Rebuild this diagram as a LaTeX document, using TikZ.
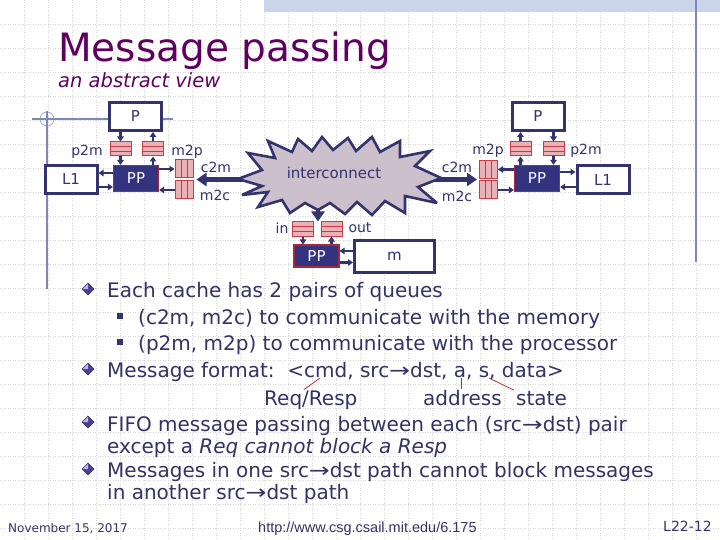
\documentclass[tikz,border=0pt]{standalone}
\usepackage{fontspec}
\usepackage{graphicx}
\setmainfont{DejaVu Sans}
\newfontfamily\urlfont{Liberation Sans}
\usetikzlibrary{arrows.meta,calc}
\definecolor{navy}{RGB}{51,51,110}
\definecolor{ppfill}{RGB}{51,51,128}
\definecolor{ppborder}{RGB}{170,40,60}
\definecolor{qfill}{RGB}{234,178,182}
\definecolor{qborder}{RGB}{200,60,70}
\definecolor{starfill}{RGB}{204,192,204}
\definecolor{textc}{RGB}{51,51,102}
\definecolor{titlec}{RGB}{96,0,96}
\definecolor{gridc}{RGB}{215,215,215}
\definecolor{bandc}{RGB}{202,213,234}
\definecolor{decoc}{RGB}{125,135,185}
\definecolor{redl}{RGB}{190,50,50}
\definecolor{bulletdark}{RGB}{80,60,150}
\definecolor{bulletlight}{RGB}{190,180,225}
\newcommand{\sdarrow}{\scalebox{1.25}[1]{→}}
\tikzset{
  gridline/.style={gridc, line width=0.6pt, dash pattern=on 1pt off 1.5pt},
  pbox/.style={rectangle, draw=navy, line width=3pt, fill=white, minimum width=52pt, minimum height=28pt, inner sep=0pt, text=navy, font=\fontsize{15}{17}\selectfont},
  ppbox/.style={rectangle, draw=ppborder, line width=1.2pt, fill=ppfill, minimum width=45pt, minimum height=26pt, inner sep=0pt, text=white, font=\fontsize{15}{17}\selectfont},
  hq/.style={rectangle, draw=qborder, fill=qfill, line width=1pt, minimum width=21pt, minimum height=14pt, inner sep=0pt,
    path picture={\draw[qborder,line width=0.8pt]
      ([yshift=4.67pt]path picture bounding box.south west) -- ([yshift=4.67pt]path picture bounding box.south east)
      ([yshift=-4.67pt]path picture bounding box.north west) -- ([yshift=-4.67pt]path picture bounding box.north east);}},
  vq/.style={rectangle, draw=qborder, fill=qfill, line width=1pt, minimum width=18pt, minimum height=18pt, inner sep=0pt,
    path picture={\draw[qborder,line width=0.8pt]
      ([xshift=6pt]path picture bounding box.south west) -- ([xshift=6pt]path picture bounding box.north west)
      ([xshift=-6pt]path picture bounding box.south east) -- ([xshift=-6pt]path picture bounding box.north east);}},
  arr/.style={navy, line width=2.2pt, -{Triangle[length=5pt,width=6.5pt]}},
  bigarr/.style={navy, line width=4.5pt, -{Triangle[length=10pt,width=13pt]}},
  lbl/.style={text=navy, font=\fontsize{14}{16}\selectfont, inner sep=0pt},
  body/.style={text=textc, font=\fontsize{20}{24}\selectfont, inner sep=0pt, anchor=base west},
  body2/.style={text=textc, font=\fontsize{20}{22}\selectfont, inner sep=0pt, anchor=west, align=left},
  foot/.style={text=textc, inner sep=0pt, anchor=base west},
  redline/.style={redl, line width=0.8pt},
  dbul/.pic={
    \fill[bulletdark] (0,-6) -- (6,0) -- (0,6) -- (-6,0) -- cycle;
    \fill[bulletlight] (-6,0) -- (0,-6) -- (0,0) -- cycle;
    \draw[navy, line width=0.4pt] (0,-6) -- (6,0) -- (0,6) -- (-6,0) -- cycle;
  },
  sbul/.pic={\fill[navy] (-3,-3) rectangle (3,3);}
}
\begin{document}
\begin{tikzpicture}[x=1pt,y=-1pt]
\useasboundingbox (0,0) rectangle (720,540);
\fill[white] (0,0) rectangle (720,540);
% background grid
\foreach \x in {24,48,...,696} \draw[gridline] (\x,0) -- (\x,540);
\foreach \y in {24,48,...,528} \draw[gridline] (0,\y) -- (720,\y);
\fill[bandc] (264,0) rectangle (720,12);
\draw[decoc, line width=1.3pt] (696,0) -- (696,262);
% left decoration
\draw[decoc!70, line width=0.8pt] (47,119) circle (7);
\draw[decoc, line width=1.2pt] (32,119) -- (173,119);
\draw[decoc, line width=1.2pt] (47,111) -- (47,289);

% title
\node[text=titlec, font=\fontsize{39}{44}\selectfont, inner sep=0pt, anchor=base west] (title) at (58,62) {Message passing};
\node[text=titlec, font=\fontsize{19.5}{22}\selectfont\itshape, inner sep=0pt, anchor=base west] (subtitle) at (58,88) {an abstract view};

% attachment points of the interconnect
\coordinate (starL) at (252,179.5);
\coordinate (starR) at (425,179.5);
\coordinate (starB) at (318,195);

% left cluster
\node[pbox] (P1) at (135.5,116.5) {P};
\node[hq] (p2mL) at (120.5,149) {};
\node[hq] (m2pL) at (153,149) {};
\node[ppbox] (PPL) at (136,178.5) {PP};
\node[pbox] (L1L) at (71,179.5) {L1};
\node[vq] (c2mL) at (184,169) {};
\node[vq] (m2cL) at (184,190) {};

% right cluster
\node[pbox] (P2) at (538,116.5) {P};
\node[hq] (m2pR) at (520.5,149) {};
\node[hq] (p2mR) at (553.5,149) {};
\node[ppbox] (PPR) at (537,178.5) {PP};
\node[pbox] (L1R) at (603,180) {L1};
\node[vq] (c2mR) at (488.5,169.5) {};
\node[vq] (m2cR) at (488.5,190) {};

% bottom cluster
\node[hq] (inQ) at (303,229) {};
\node[hq] (outQ) at (331.5,229) {};
\node[ppbox, minimum height=22pt] (PPB) at (316.5,256) {PP};
\node[pbox, minimum width=80pt, minimum height=32pt] (mB) at (394.5,256.5) {m};

\draw[bigarr, shorten >=3pt] (starL) -- (c2mL.east |- starL);
\draw[bigarr, shorten >=2pt] (starR) -- (c2mR.west |- starR);
\draw[bigarr] (starB) -- (starB |- inQ.north);

% interconnect star
\draw[navy, line width=2.6pt, fill=starfill, line join=miter, miter limit=4]
  (238,179) -- (262,170) -- (248,153) -- (275,158) -- (268,141) -- (292,152) -- (298,139)
  -- (312,151) -- (322,137) -- (333,150) -- (348,138) -- (356,151) -- (372,137) -- (380,152)
  -- (400,141) -- (400,157) -- (430,151) -- (415,166) -- (441,178) -- (418,187) -- (437,203)
  -- (405,196) -- (405,213) -- (385,201) -- (372,215) -- (357,202) -- (345,214) -- (330,203)
  -- (318,210) -- (305,203) -- (290,213) -- (282,200) -- (258,207) -- (268,192) -- (242,195)
  -- (262,186) -- cycle;
\node[lbl, font=\fontsize{15}{17}\selectfont] (ic) at (334,173) {interconnect};

% small arrows left
\draw[arr] (P1.south -| p2mL) -- (p2mL.north);
\draw[arr] (p2mL.south) -- (p2mL.south |- PPL.north);
\draw[arr] (PPL.north -| m2pL) -- (m2pL.south);
\draw[arr] (m2pL.north) -- (m2pL.north |- P1.south);
\draw[arr] ([yshift=5.5pt]PPL.west) -- ([yshift=5.5pt]PPL.west -| L1L.east);
\draw[arr] ([yshift=-8.5pt]PPL.west -| L1L.east) -- ([yshift=-8.5pt]PPL.west);
\draw[arr] (PPL.east |- c2mL) -- (c2mL.west);
\draw[arr] (m2cL.west) -- (m2cL.west -| PPL.east);

% small arrows right
\draw[arr] (PPR.north -| m2pR) -- (m2pR.south);
\draw[arr] (m2pR.north) -- (m2pR.north |- P2.south);
\draw[arr] (P2.south -| p2mR) -- (p2mR.north);
\draw[arr] (p2mR.south) -- (p2mR.south |- PPR.north);
\draw[arr] ([yshift=6.5pt]PPR.east) -- ([yshift=6.5pt]PPR.east -| L1R.west);
\draw[arr] ([yshift=-8.5pt]PPR.east -| L1R.west) -- ([yshift=-8.5pt]PPR.east);
\draw[arr] (c2mR.east -| PPR.west) -- (c2mR.east);
\draw[arr] (m2cR.east) -- (m2cR.east -| PPR.west);

% small arrows bottom
\draw[arr] (inQ.south) -- (inQ.south |- PPB.north);
\draw[arr] (PPB.north -| outQ) -- (outQ.south);
\draw[arr] ([yshift=5.5pt]mB.west) -- ([yshift=5.5pt]mB.west -| PPB.east);
\draw[arr] ([yshift=-6.5pt]PPB.east) -- ([yshift=-6.5pt]PPB.east -| mB.west);

% labels
\node[lbl] (lp2mL) at (87,152) {p2m};
\node[lbl] (lm2pL) at (187,152) {m2p};
\node[lbl] (lc2mL) at (216,167) {c2m};
\node[lbl] (lm2cL) at (215,195) {m2c};
\node[lbl] (lm2pR) at (488,151) {m2p};
\node[lbl] (lp2mR) at (586,151) {p2m};
\node[lbl] (lc2mR) at (457,167) {c2m};
\node[lbl] (lm2cR) at (457,196) {m2c};
\node[lbl] (lin) at (282,228) {in};
\node[lbl] (lout) at (360,228) {out};

% bullet text
\pic at (88,289) {dbul};
\node[body] (t1) at (107,297) {Each cache has 2 pairs of queues};
\pic at (120,316) {sbul};
\node[body] (t2) at (138,324) {(c2m, m2c) to communicate with the memory};
\pic at (120,342) {sbul};
\node[body] (t3) at (138,350) {(p2m, m2p) to communicate with the processor};
\pic at (88,369) {dbul};
\node[body] (t4) at (107,377) {Message format:\ \ {<}cmd, src\sdarrow dst, a, s, data{>}};
\node[body] (reqresp) at (264,405.5) {Req/Resp};
\node[body] (addr) at (423,405.5) {address};
\node[body] (state) at (516,405.5) {state};
\coordinate (cmdpt) at (320,378);
\coordinate (apt) at (461,378);
\coordinate (spt) at (489,378);
\draw[redline] (cmdpt) -- ([xshift=-7pt,yshift=1pt]reqresp.north);
\draw[redline] (apt) -- ([yshift=1pt]apt |- addr.north);
\draw[redline] (spt) -- ([xshift=-2pt,yshift=1pt]state.north west);
\pic at (88,422) {dbul};
\node[body2] (t5) at (107,436.5) {FIFO message passing between each (src\sdarrow dst) pair\\except a \textit{Req cannot block a Resp}};
\pic at (88,469) {dbul};
\node[body2] (t7) at (107,482.5) {Messages in one src\sdarrow dst path cannot block messages\\in another src\sdarrow dst path};

% footer
\node[foot, font=\fontsize{12}{14}\selectfont] (date) at (8,532) {November 15, 2017};
\node[foot, font=\urlfont\fontsize{14.5}{16}\selectfont] (url) at (258,532) {http://www.csg.csail.mit.edu/6.175};
\node[foot, font=\fontsize{14}{16}\selectfont] (slide) at (663,531) {L22-12};
\end{tikzpicture}
\end{document}
